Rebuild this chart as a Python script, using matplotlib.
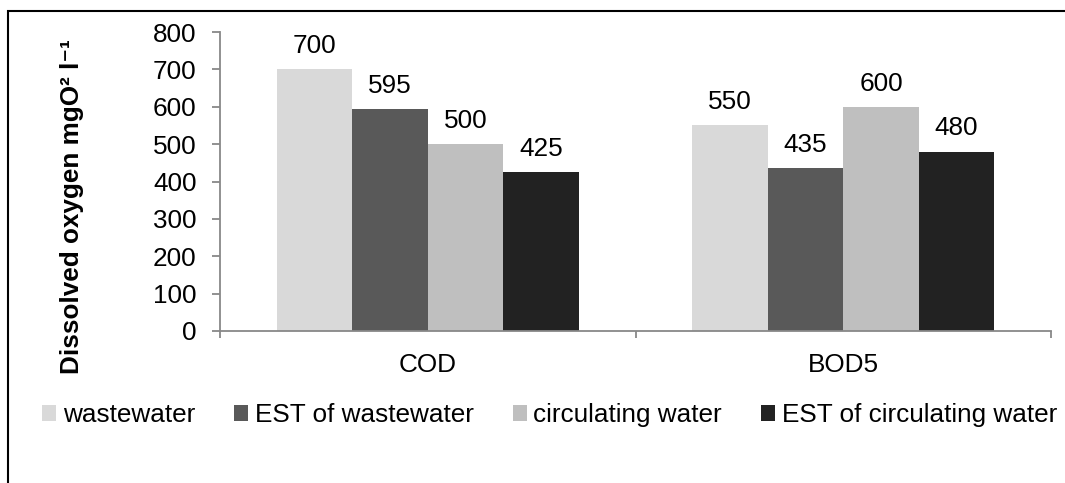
import matplotlib.pyplot as plt
import matplotlib.patches as patches
import numpy as np

plt.rcParams['font.family'] = ['Liberation Sans', 'DejaVu Sans']

categories = ['COD', 'BOD5']
series_names = ['wastewater', 'EST of wastewater', 'circulating water', 'EST of circulating water']
values = {
    'wastewater': [700, 550],
    'EST of wastewater': [595, 435],
    'circulating water': [500, 600],
    'EST of circulating water': [425, 480],
}
colors = ['#D9D9D9', '#595959', '#BFBFBF', '#222222']
yticks = [0, 100, 200, 300, 400, 500, 600, 700, 800]

fs = 18.8
fig = plt.figure(figsize=(10.65, 4.83), dpi=100)
ax = fig.add_axes([220/1065, 1-331/483, (1051-220)/1065, (331-32)/483])

x = np.arange(len(categories))
w = 1/5.5
for i, name in enumerate(series_names):
    pos = x + (i - 1.5) * w
    bars = ax.bar(pos, values[name], width=w, color=colors[i], label=name)
    for b, v in zip(bars, values[name]):
        ax.annotate(str(v), (b.get_x() + b.get_width()/2, v), xytext=(0, 8),
                    textcoords='offset points', ha='center', va='bottom', fontsize=fs)

ax.set_xlim(-0.5, 1.5)
ax.set_ylim(0, 800)
ax.set_yticks(yticks)
ax.set_xticks(x)
ax.set_xticklabels(categories)
ax.set_xticks([-0.5, 0.5, 1.5], minor=True)

gray = '#888888'
for s in ['top', 'right']:
    ax.spines[s].set_visible(False)
for s in ['left', 'bottom']:
    ax.spines[s].set_color(gray)
    ax.spines[s].set_linewidth(1.3)
ax.tick_params(axis='y', length=6, width=1.3, color=gray, pad=11, labelsize=fs)
ax.tick_params(axis='x', which='major', length=0, pad=16, labelsize=fs)
ax.tick_params(axis='x', which='minor', length=5, width=1.3, color=gray)

fig.text(72/1065, 1-207/483, 'Dissolved oxygen mgO² l⁻¹', rotation=90,
         ha='center', va='center', fontsize=fs, fontweight='bold')

fig.legend(loc='center left', bbox_to_anchor=(42/1065, 1-415/483), ncol=4,
           frameon=False, fontsize=fs, handlelength=0.54, handleheight=0.54,
           handletextpad=0.25, columnspacing=1.5, borderpad=0, borderaxespad=0)

# outer frame around the chart area
fig.patches.append(patches.Rectangle((8/1065, -0.1), 1.2, (483-11)/483 + 0.1,
                                     transform=fig.transFigure, fill=False,
                                     edgecolor='black', linewidth=1.5))

fig.savefig('out.png', dpi=100)
